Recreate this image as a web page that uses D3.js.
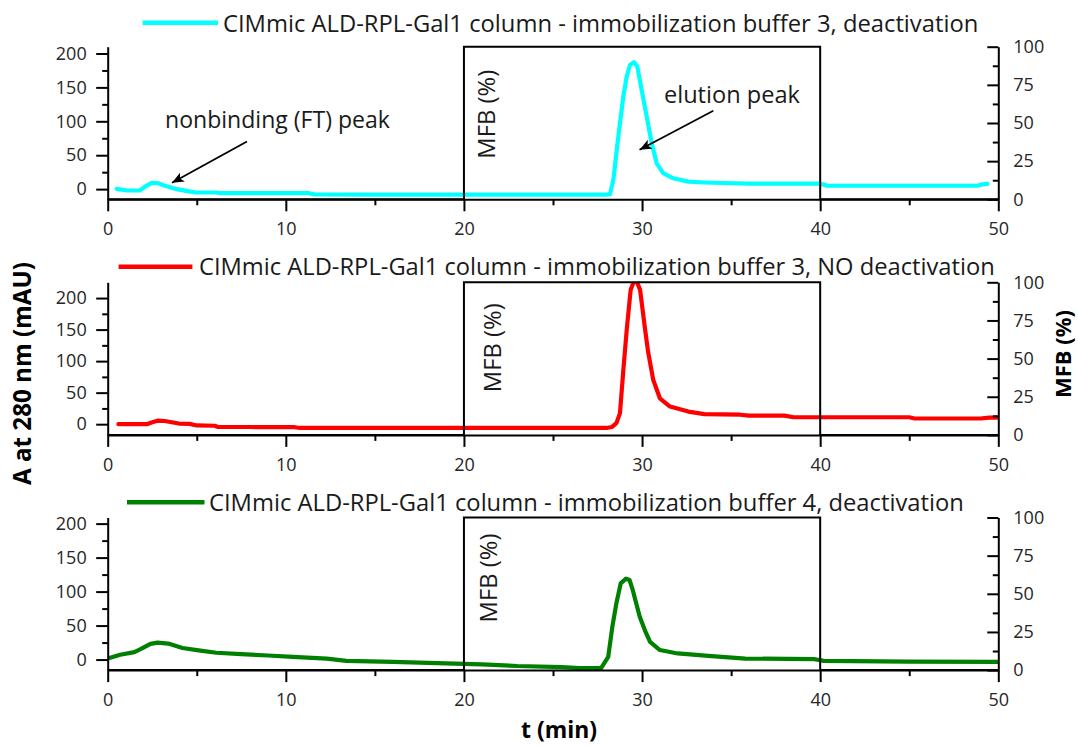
<!DOCTYPE html>
<html><head><meta charset="utf-8">
<script src="https://cdn.jsdelivr.net/npm/d3@7"></script>
<style>
body{margin:0;background:#fff}
svg text{font-family:"Open Sans",sans-serif}
</style>
</head><body>
<svg id="chart" width="1078" height="747"></svg>
<script>
// ---------- DATA ----------
const seriesNames = [
  "CIMmic ALD-RPL-Gal1 column - immobilization buffer 3, deactivation",
  "CIMmic ALD-RPL-Gal1 column - immobilization buffer 3, NO deactivation",
  "CIMmic ALD-RPL-Gal1 column - immobilization buffer 4, deactivation"
];
const seriesColors = ["#00ffff", "#ff0000", "#008000"];

// buffer 3, deactivation (cyan)
const tBuf3Deact = [0.5,1.1,1.8,2.06,2.44,2.83,3.2,3.8,4.4,4.95,6.1,6.3,11.3,11.6,15,20,25,28.0,28.2,28.39,28.58,28.76,28.95,29.14,29.32,29.55,29.73,29.98,30.26,30.54,30.82,31.19,31.75,32.6,33.5,34.5,36,40,40.4,45,48.8,49.1,49.4];
const aBuf3Deact = [0.4,-2,-2,3,8.8,8.8,4.9,0.4,-2.5,-5,-5,-6,-6,-7.8,-8,-8,-8,-8,-7.5,13.7,58,97,137,166,183,187,181,146,107,68,38,23.6,16,11,9.8,9,8,8,5.2,5,5,7,7.8];

// buffer 3, NO deactivation (red)
const tBuf3NoDeact = [0.6,1.5,2.2,2.5,2.8,3.2,3.6,4.0,4.6,5.0,6.0,6.2,8,10.5,10.8,15,20,25,28.0,28.3,28.56,28.76,28.95,29.14,29.36,29.62,29.89,30.17,30.35,30.63,31.0,31.57,32.6,33.5,35.5,36,38,38.5,45,45.3,49,49.5,50];
const aBuf3NoDeact = [0,0,0,3,5.5,5,3,1,0.5,-2,-2.5,-4.5,-4.5,-4.8,-6,-6,-6,-6,-6,-4.5,1.6,17.5,86,150,213,232,213,150,113,70,41,28,20,16,15,13.5,13.5,11,11,9,9,10.5,10.5];

// buffer 4, deactivation (green)
const tBuf4Deact = [0,0.7,1.5,1.9,2.4,2.8,3.4,4.2,5.1,6.1,7.5,9.0,10.4,12.3,13.4,16,18,21,23,25.5,26.5,27.7,28.1,28.33,28.56,28.8,29.1,29.3,29.48,29.87,30.16,30.45,31.0,32.0,33.9,35.8,39.7,40.2,45,50];
const aBuf4Deact = [1.5,7,11,16,23,25,23.5,17,13.5,10,8,6,4,1.5,-2,-3.5,-5,-7,-9.5,-11,-12.5,-12.5,4,48,83,112,119,117,102,63,43,26,14,9,5,1.5,0.5,-2,-3,-3.5];

// mobile phase B gradient (%), right axis
const mfbTime = [0,20,20,40,40,50];
const mfbPercent = [0,0,100,100,0,0];

// ticks
const xTicks = [0,10,20,30,40,50];
const xMinorTicks = [5,15,25,35,45];
const aTicks = [0,50,100,150,200];
const aMinorTicks = [25,75,125,175];
const mfbTicks = [0,25,50,75,100];
const mfbMinorTicks = [12.5,37.5,62.5,87.5];

// texts
const xTitle = "t (min)";
const yLeftTitle = "A at 280 nm (mAU)";
const yRightTitle = "MFB (%)";
const boxLabel = "MFB (%)";
const annoTexts = ["nonbinding (FT) peak", "elution peak"];

// ---------- LAYOUT ----------
const series = [
  {t:tBuf3Deact, a:aBuf3Deact},
  {t:tBuf3NoDeact, a:aBuf3NoDeact},
  {t:tBuf4Deact, a:aBuf4Deact}
];
const plotL = 107.7, plotR = 998.3, plotH = 152.6;
const panelTops = [46.7, 282.3, 517.5];
const aDomains = [[-15,210],[-17,225],[-15.5,209]];
const legendCfg = [
  {x1:142.6, x2:218, y:22.7, tx:223, tEnd:979, base:31.7},
  {x1:118.6, x2:192.4, y:266.7, tx:199, tEnd:995, base:275},
  {x1:127, x2:204.5, y:502.3, tx:209, tEnd:964, base:510.7}
];
const boxLabelCfg = [{bx:495, off:23},{bx:501, off:21},{bx:497, off:16}];

const svg = d3.select("#chart");
const FONT = '"Open Sans", sans-serif';
const TICKFS = 18;

function fit(sel, width, base) {
  sel.style("font-size", base + "px");
  const w = sel.node().getComputedTextLength();
  sel.style("font-size", (base * width / w) + "px");
  return sel;
}

const defs = svg.append("defs");
defs.append("marker").attr("id","arrow").attr("markerUnits","userSpaceOnUse")
  .attr("markerWidth",14).attr("markerHeight",10).attr("refX",12).attr("refY",5)
  .attr("orient","auto")
  .append("path").attr("d","M0,0 L12,5 L0,10 L3,5 z").attr("fill","#000");

const x = d3.scaleLinear().domain([0,50]).range([plotL, plotR]);

function styleAxis(g) {
  g.attr("font-family", FONT).attr("font-size", TICKFS);
  g.selectAll("path.domain").attr("stroke","#000").attr("stroke-width",2);
  g.selectAll(".tick line").attr("stroke","#000").attr("stroke-width",2);
  g.selectAll(".tick text").attr("fill","#262626");
}

panelTops.forEach((top, i) => {
  const bottom = top + plotH;
  const y = d3.scaleLinear().domain(aDomains[i]).range([bottom, top]);
  const yR = d3.scaleLinear().domain([0,100]).range([bottom, top]);
  const g = svg.append("g");

  defs.append("clipPath").attr("id","clip"+i)
    .append("rect").attr("x",plotL).attr("y",top).attr("width",plotR-plotL).attr("height",plotH);

  // data line
  const pts = series[i].t.map((t,k)=>[t, series[i].a[k]]);
  g.append("path").datum(pts)
    .attr("clip-path","url(#clip"+i+")")
    .attr("fill","none").attr("stroke",seriesColors[i]).attr("stroke-width",4.2)
    .attr("stroke-linejoin","round").attr("stroke-linecap","round")
    .attr("d", d3.line().x(d=>x(d[0])).y(d=>y(d[1])).curve(d3.curveLinear));

  // MFB gradient box
  const mpts = mfbTime.map((t,k)=>[t, mfbPercent[k]]);
  g.append("path").datum(mpts)
    .attr("fill","none").attr("stroke","#000").attr("stroke-width",2)
    .attr("d", d3.line().x(d=>x(d[0])).y(d=>yR(d[1])));

  // axes
  g.append("g").attr("transform",`translate(0,${bottom})`)
    .call(d3.axisBottom(x).tickValues(xTicks).tickSize(12).tickSizeOuter(0).tickPadding(11).tickFormat(d3.format("d")))
    .call(styleAxis);
  g.append("g").attr("transform",`translate(0,${bottom})`)
    .call(d3.axisBottom(x).tickValues(xMinorTicks).tickSize(6).tickSizeOuter(0).tickFormat(""))
    .call(styleAxis).call(s=>s.select(".domain").remove());

  g.append("g").attr("transform",`translate(${plotL},0)`)
    .call(d3.axisLeft(y).tickValues(aTicks).tickSize(11.5).tickSizeOuter(0).tickPadding(9.5).tickFormat(d3.format("d")))
    .call(styleAxis);
  g.append("g").attr("transform",`translate(${plotL},0)`)
    .call(d3.axisLeft(y).tickValues(aMinorTicks).tickSize(5.5).tickSizeOuter(0).tickFormat(""))
    .call(styleAxis).call(s=>s.select(".domain").remove());

  g.append("g").attr("transform",`translate(${plotR},0)`)
    .call(d3.axisRight(yR).tickValues(mfbTicks).tickSize(-11).tickSizeOuter(0).tickPadding(15).tickFormat(d3.format("d")))
    .call(styleAxis);
  g.append("g").attr("transform",`translate(${plotR},0)`)
    .call(d3.axisRight(yR).tickValues(mfbMinorTicks).tickSize(-5.5).tickSizeOuter(0).tickFormat(""))
    .call(styleAxis).call(s=>s.select(".domain").remove());

  // legend
  const lc = legendCfg[i];
  g.append("line").attr("x1",lc.x1).attr("x2",lc.x2).attr("y1",lc.y).attr("y2",lc.y)
    .attr("stroke",seriesColors[i]).attr("stroke-width",4.5);
  const lt = g.append("text").attr("x",lc.tx).attr("y",lc.base).attr("fill","#1a1a1a").text(seriesNames[i]);
  fit(lt, lc.tEnd - lc.tx, 20);

  // label inside gradient box
  const bl = boxLabelCfg[i];
  const bt = g.append("text").attr("transform",`translate(${bl.bx},${top+bl.off}) rotate(-90)`)
    .attr("text-anchor","end").attr("fill","#1a1a1a").text(boxLabel);
  fit(bt, 89, 19);

  // annotations (top panel only)
  if (i === 0) {
    const t1 = g.append("text").attr("x",x(3.22)).attr("y",y(90.4)).attr("fill","#1a1a1a").text(annoTexts[0]);
    fit(t1, 225, 20);
    g.append("line").attr("x1",x(7.82)).attr("y1",y(70.2)).attr("x2",x(3.61)).attr("y2",y(9.3))
      .attr("stroke","#000").attr("stroke-width",1.8).attr("marker-end","url(#arrow)");
    const t2 = g.append("text").attr("x",x(31.23)).attr("y",y(127)).attr("fill","#1a1a1a").text(annoTexts[1]);
    fit(t2, 136, 20);
    g.append("line").attr("x1",x(34.0)).attr("y1",y(115.5)).attr("x2",x(29.86)).attr("y2",y(58))
      .attr("stroke","#000").attr("stroke-width",1.8).attr("marker-end","url(#arrow)");
  }
});

// axis titles
const yl = svg.append("text").attr("transform","translate(31,373.5) rotate(-90)")
  .attr("text-anchor","middle").attr("font-weight","bold").attr("fill","#000").text(yLeftTitle);
fit(yl, 223, 20);
const yr = svg.append("text").attr("transform","translate(1071,354) rotate(-90)")
  .attr("text-anchor","middle").attr("font-weight","bold").attr("fill","#000").text(yRightTitle);
fit(yr, 88, 20);
const xt = svg.append("text").attr("x",521).attr("y",738)
  .attr("font-weight","bold").attr("fill","#000").text(xTitle);
fit(xt, 76, 20);
</script>
</body></html>
